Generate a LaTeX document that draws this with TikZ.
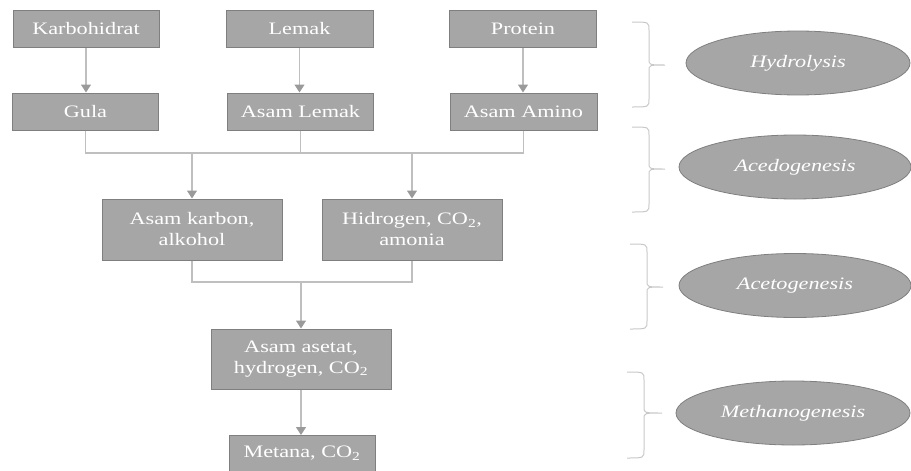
\documentclass[tikz,border=0pt]{standalone}
\usepackage{fontspec}
\setmainfont{Liberation Serif}[FakeStretch=1.27]
\usetikzlibrary{arrows.meta,shapes.geometric}
\definecolor{boxfill}{HTML}{A6A6A6}
\definecolor{boxline}{HTML}{7F7F7F}
\definecolor{conn}{HTML}{BFBFBF}
\definecolor{tipc}{HTML}{9A9A9A}
\definecolor{bracec}{HTML}{C8C8C8}
\newcommand\phbrace[6]{%
  \draw[bracestyle] (#1,#4) .. controls (#2,#4) .. (#2,#4+8) -- (#2,#5-6)
    .. controls (#2,#5) .. (#3,#5) .. controls (#2,#5) .. (#2,#5+6)
    -- (#2,#6-8) .. controls (#2,#6) .. (#1,#6);}
\begin{document}
\begin{tikzpicture}[x=1pt,y=-1pt,
  procbox/.style={draw=boxline, line width=1pt, fill=boxfill, text=white,
    font=\fontsize{17.5}{21}\selectfont, align=center, inner sep=0pt,
    minimum height=37pt},
  phase/.style={ellipse, draw=boxline, line width=0.8pt, fill=boxfill,
    text=white, font=\fontsize{17.5}{21}\selectfont\itshape, inner sep=0pt,
    minimum height=64pt},
  flow/.style={draw=conn, line width=1.2pt},
  flowarrow/.style={flow, -{Triangle[width=10pt,length=8pt,color=tipc]}},
  bracestyle/.style={draw=bracec, line width=1pt}]
\useasboundingbox (0,0) rectangle (911,471);

% first row
\node[procbox, minimum width=146pt] (karb) at (86,28.5) {Karbohidrat};
\node[procbox, minimum width=147pt] (lemak) at (299.5,28.5) {Lemak};
\node[procbox, minimum width=147pt] (prot) at (523,28.5) {Protein};
% second row
\node[procbox, minimum width=146pt] (gula) at (85.5,111.5) {Gula};
\node[procbox, minimum width=146pt] (alemak) at (300.5,111.5) {Asam Lemak};
\node[procbox, minimum width=147pt] (amino) at (523.5,111.5) {Asam Amino};
% third row
\node[procbox, minimum width=180pt, minimum height=61pt] (karbon) at (192,229.5) {Asam karbon,\\alkohol};
\node[procbox, minimum width=180pt, minimum height=61pt] (hidro) at (412,229.5) {Hidrogen, CO\textsubscript{2},\\amonia};
% fourth row
\node[procbox, minimum width=180pt, minimum height=60pt] (asetat) at (301,359) {Asam asetat,\\hydrogen, CO\textsubscript{2}};
% fifth row
\node[procbox, minimum width=146pt, minimum height=36pt] (metana) at (302,453.5) {Metana, CO\textsubscript{2}};

% phases
\node[phase, minimum width=224pt] (hyd) at (798,63) {Hydrolysis};
\node[phase, minimum width=232pt] (aced) at (795,167) {Acedogenesis};
\node[phase, minimum width=232pt] (acet) at (795,285.5) {Acetogenesis};
\node[phase, minimum width=234pt] (meth) at (793,413) {Methanogenesis};

% connectors
\draw[flowarrow] (karb.south) -- (karb.south |- gula.north);
\draw[flowarrow] (lemak.south) -- (lemak.south |- alemak.north);
\draw[flowarrow] (prot.south) -- (prot.south |- amino.north);

\coordinate (bus1) at (0,153);
\draw[flow] (gula.south) |- (amino.south |- bus1) -- (amino.south);
\draw[flow] (alemak.south) -- (alemak.south |- bus1);
\draw[flowarrow] (karbon.north |- bus1) -- (karbon.north);
\draw[flowarrow] (hidro.north |- bus1) -- (hidro.north);

\coordinate (bus2) at (0,282);
\draw[flow] (karbon.south) |- (hidro.south |- bus2) -- (hidro.south);
\draw[flowarrow] (asetat.north |- bus2) -- (asetat.north);

\draw[flowarrow] (asetat.south) -- (asetat.south |- metana.north);

% braces
\phbrace{632}{649}{665}{22}{65}{107}
\phbrace{632}{649}{665}{127}{169}{212}
\phbrace{630}{647}{663}{244}{287}{329}
\phbrace{627}{644}{662}{372}{413}{458}
\end{tikzpicture}
\end{document}
